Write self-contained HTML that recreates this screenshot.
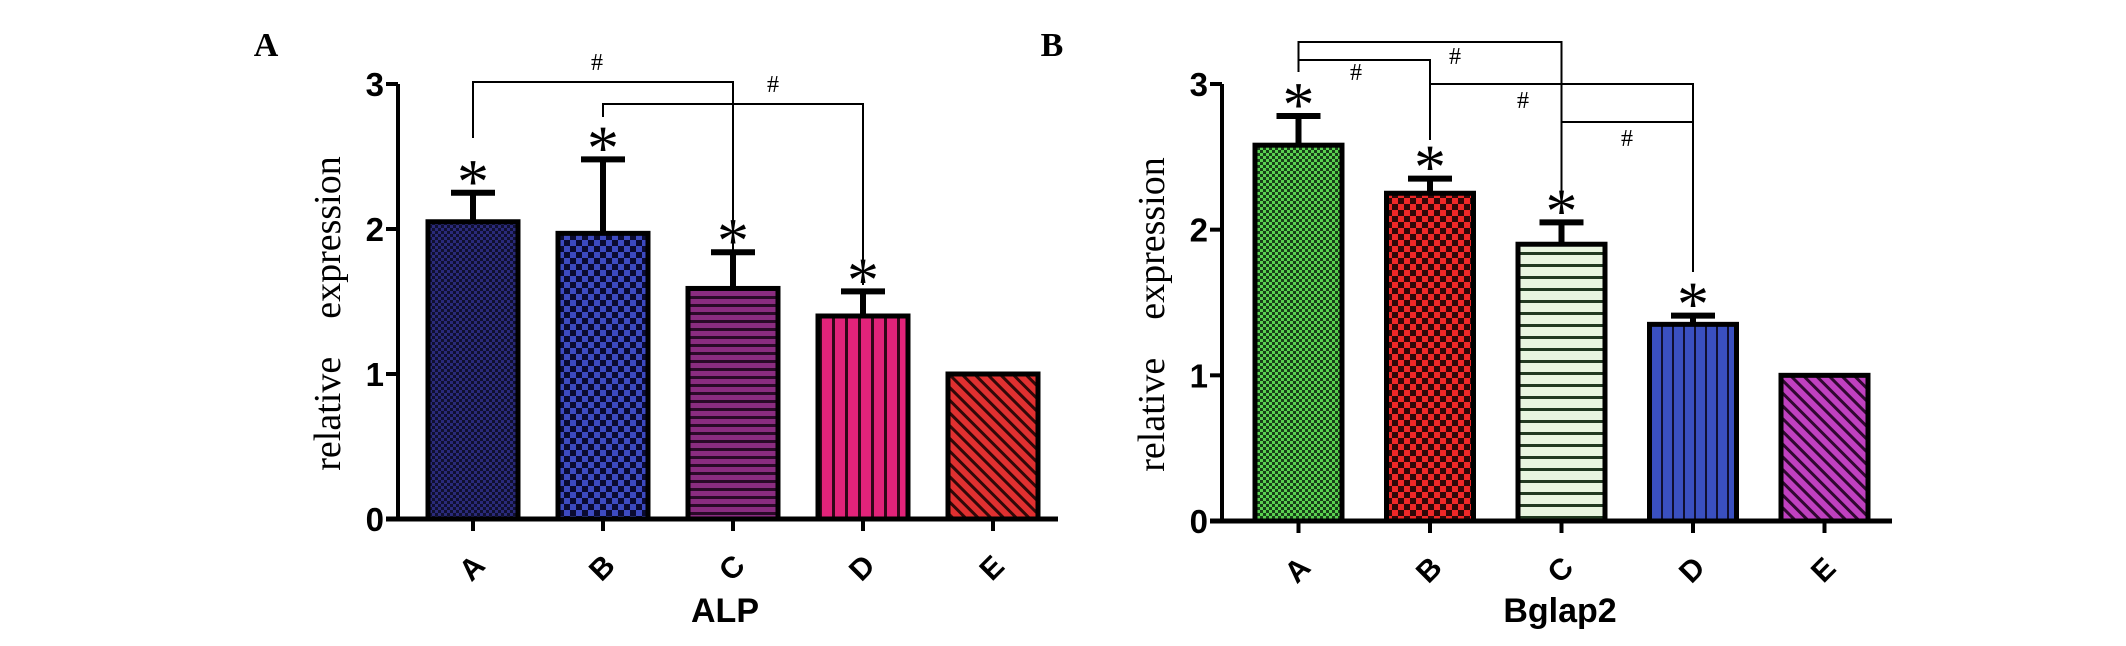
<!DOCTYPE html>
<html><head><meta charset="utf-8"><style>
body{margin:0;background:#fff;}
svg{display:block;}
</style></head><body>
<svg id="fig" width="2126" height="646" viewBox="0 0 2126 646" xmlns="http://www.w3.org/2000/svg">
<defs>
<pattern id="pA1" width="6" height="6" patternUnits="userSpaceOnUse"><rect width="6" height="6" fill="#2a2a7a"/><rect width="3" height="3" fill="#101030"/><rect x="3" y="3" width="3" height="3" fill="#101030"/></pattern>
<pattern id="pA2" width="12" height="12" patternUnits="userSpaceOnUse"><rect width="12" height="12" fill="#3d4ac0"/><rect width="6" height="6" fill="#0a0a30"/><rect x="6" y="6" width="6" height="6" fill="#0a0a30"/></pattern>
<pattern id="pA3" width="8" height="8" patternUnits="userSpaceOnUse"><rect width="8" height="8" fill="#8a2c80"/><rect width="8" height="3" fill="#2a0a28"/></pattern>
<pattern id="pA4" width="13" height="8" patternUnits="userSpaceOnUse"><rect width="13" height="8" fill="#e2237a"/><rect width="3" height="8" fill="#300818"/></pattern>
<pattern id="pA5" width="9" height="9" patternUnits="userSpaceOnUse" patternTransform="rotate(-45)"><rect width="9" height="9" fill="#e03030"/><rect width="3" height="9" fill="#300808"/></pattern>
<pattern id="pB1" width="6" height="6" patternUnits="userSpaceOnUse"><rect width="6" height="6" fill="#5ad050"/><rect width="3" height="3" fill="#184018"/><rect x="3" y="3" width="3" height="3" fill="#184018"/></pattern>
<pattern id="pB2" width="12" height="12" patternUnits="userSpaceOnUse"><rect width="12" height="12" fill="#f02828"/><rect width="6" height="6" fill="#300808"/><rect x="6" y="6" width="6" height="6" fill="#300808"/></pattern>
<pattern id="pB3" width="8" height="12" patternUnits="userSpaceOnUse"><rect width="8" height="12" fill="#e8f5e0"/><rect width="8" height="3" fill="#203820"/></pattern>
<pattern id="pB4" width="11" height="8" patternUnits="userSpaceOnUse"><rect width="11" height="8" fill="#3a50c0"/><rect width="2" height="8" fill="#101030"/></pattern>
<pattern id="pB5" width="9" height="9" patternUnits="userSpaceOnUse" patternTransform="rotate(-45)"><rect width="9" height="9" fill="#c040c0"/><rect width="3" height="9" fill="#300830"/></pattern>
</defs>
</svg>
<script>
const categories = ["A","B","C","D","E"];
const alpValues = [2.05, 1.97, 1.59, 1.40, 1.0];
const alpErrors = [0.20, 0.51, 0.25, 0.17, 0];
const bglapValues = [2.58, 2.25, 1.90, 1.35, 1.0];
const bglapErrors = [0.20, 0.10, 0.15, 0.06, 0];
const yTicks = [0, 1, 2, 3];
const alpStars = [true, true, true, true, false];
const bglapStars = [true, true, true, true, false];

const NS = "http://www.w3.org/2000/svg";
const svg = document.getElementById("fig");
function mk(tag, attrs, parent, text){
  const e = document.createElementNS(NS, tag);
  for (const k in attrs) e.setAttribute(k, attrs[k]);
  if (text !== undefined) e.textContent = text;
  (parent || svg).appendChild(e);
  return e;
}

function drawChart(cfg){
  const g = mk("g", {});
  
  
  const y = v => cfg.y0 - v * (cfg.y0 - cfg.y3) / 3;
  const xc = i => cfg.bx0 + cfg.bw / 2 + i * cfg.step;
  const ya = mk("line", {x1: cfg.ax, y1: y(3), x2: cfg.ax, y2: cfg.y0, stroke: "#000", "stroke-width": 4}, g);
  
  
  const xa = mk("line", {x1: cfg.ax - 12, y1: cfg.y0, x2: cfg.axEnd, y2: cfg.y0, stroke: "#000", "stroke-width": 5}, g);
  
  
  yTicks.forEach(t => {
    mk("line", {x1: cfg.ax - 12, y1: y(t), x2: cfg.ax, y2: y(t), stroke: "#000", "stroke-width": 4}, g);
    const tl = mk("text", {x: cfg.ax - 14, y: y(t) + 12, "text-anchor": "end", "font-family": "Liberation Sans, sans-serif", "font-weight": "bold", "font-size": 33}, g, String(t));
    
    
  });
  const yl = mk("text", {transform: `translate(${cfg.ax - 58},${(y(3)+cfg.y0)/2 + 12}) rotate(-90)`, "text-anchor": "middle", "font-family": "Liberation Serif, serif", "font-size": 38}, g, "relative\u00a0\u00a0\u00a0\u00a0expression");
  
  
  cfg.values.forEach((v, i) => {
    const x = cfg.bx0 + i * cfg.step;
    const b = mk("rect", {x: x, y: y(v), width: cfg.bw, height: cfg.y0 - y(v), fill: `url(#${cfg.pat}${i+1})`, stroke: "#000", "stroke-width": 5}, g);
    
    
    const e = cfg.errors[i];
    if (e > 0) {
      const el = mk("path", {d: `M${xc(i)},${y(v)} V${y(v+e)} M${xc(i)-22},${y(v+e)} H${xc(i)+22}`, stroke: "#000", "stroke-width": 6, fill: "none"}, g);
      
      
    }
    if (cfg.stars[i]) {
      const s = mk("text", {x: xc(i), y: y(v+e) + 10, "text-anchor": "middle", "font-family": "Liberation Serif, serif", "font-size": 64}, g, "*");
      
      
    }
    mk("line", {x1: xc(i), y1: cfg.y0, x2: xc(i), y2: cfg.y0 + 12, stroke: "#000", "stroke-width": 4}, g);
    const cl = mk("text", {transform: `translate(${xc(i)+6},${cfg.y0 + 56}) rotate(-45)`, "text-anchor": "middle", "font-family": "Liberation Sans, sans-serif", "font-weight": "bold", "font-size": 30}, g, categories[i]);
    
    
  });
  const t = mk("text", {x: cfg.titleX, y: 622, "text-anchor": "middle", "font-family": "Liberation Sans, sans-serif", "font-weight": "bold", "font-size": 34}, g, cfg.title);
  
  
  const pl = mk("text", {x: cfg.letterX, y: 56, "text-anchor": "middle", "font-family": "Liberation Serif, serif", "font-weight": "bold", "font-size": 34}, g, cfg.letter);
  
  
  cfg.brackets.forEach(br => {
    const p = mk("path", {d: `M${xc(br[0])},${br[3]} V${br[2]} H${xc(br[1])} V${br[4]}`, stroke: "#000", "stroke-width": 2, fill: "none"}, g);
    
    
    const h = mk("text", {x: br[5], y: br[6], "text-anchor": "middle", "font-family": "Liberation Serif, serif", "font-size": 24}, g, "#");
    
    
  });
}

drawChart({name: "alp-chart", title: "ALP", letter: "A", letterX: 266, titleX: 725, ax: 398, axEnd: 1058, y0: 519, y3: 84, bx0: 428, bw: 90, step: 130, values: alpValues, errors: alpErrors, stars: alpStars, pat: "pA",
  brackets: [[0,2,82,138,253,597,70],[1,3,104,117,285,773,92]]});
drawChart({name: "bglap2-chart", title: "Bglap2", letter: "B", letterX: 1052, titleX: 1560, ax: 1222, axEnd: 1892, y0: 521, y3: 84, bx0: 1255, bw: 87, step: 131.5, values: bglapValues, errors: bglapErrors, stars: bglapStars, pat: "pB",
  brackets: [[0,2,42,72,196,1455,64],[0,1,60,72,140,1356,80],[1,3,84,140,272,1523,108],[2,3,122,196,272,1627,146]]});
</script>
</body></html>
